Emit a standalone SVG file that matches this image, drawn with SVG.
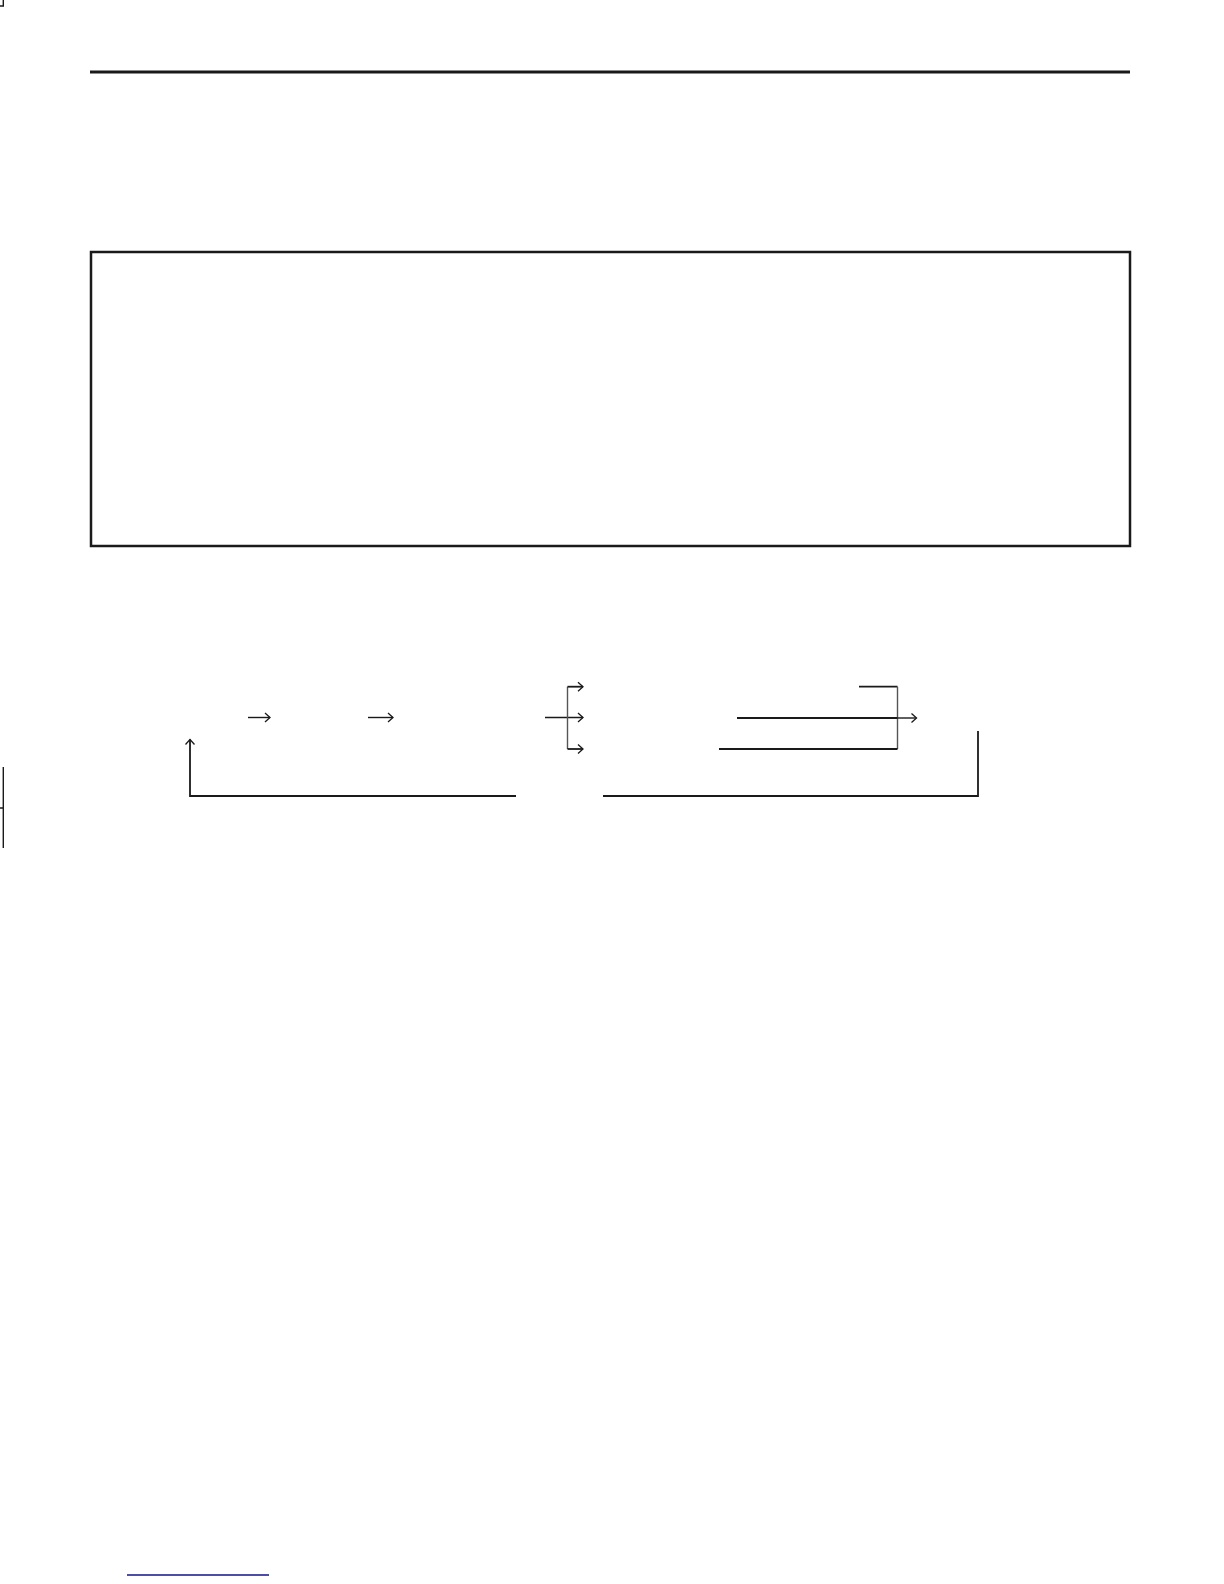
<svg xmlns="http://www.w3.org/2000/svg" width="1224" height="1584" viewBox="0 0 1224 1584">
<style>
.ln{fill:none;stroke:#1a1a1a;stroke-width:1.4}
.thk{fill:none;stroke:#1a1a1a;stroke-width:1.8}
.br{fill:none;stroke:#555;stroke-width:1.4}
</style>
<defs>
<marker id="ah" markerUnits="userSpaceOnUse" markerWidth="12" markerHeight="12" viewBox="-8 -6 10 12" refX="0" refY="0" orient="auto">
<path d="M-5,-4.5 L0,0 L-5,4.5" fill="none" stroke="#1a1a1a" stroke-width="1.3"/>
</marker>
</defs>
<rect width="1224" height="1584" fill="#fff"/>
<g id="page-marks">
<path d="M3.3,0 V6 H0" class="ln" stroke-width="1"/>
<path d="M3.3,767 V848 M0,808 H3.3" class="ln" stroke-width="1"/>
<line x1="90" y1="72" x2="1130" y2="72" stroke="#1a1a1a" stroke-width="3"/>
<line x1="127" y1="1575" x2="269" y2="1575" stroke="#12128a" stroke-width="1.6"/>
</g>
<g id="frame">
<rect x="91" y="252" width="1039" height="294" fill="none" stroke="#1a1a1a" stroke-width="2.5"/>
</g>
<g id="connectors">
<line x1="248" y1="717.5" x2="270" y2="717.5" class="ln" marker-end="url(#ah)"/>
<line x1="368" y1="717.5" x2="393" y2="717.5" class="ln" marker-end="url(#ah)"/>
<line x1="545" y1="717.5" x2="583" y2="717.5" class="ln" marker-end="url(#ah)"/>
<line x1="567.5" y1="686.7" x2="567.5" y2="749" class="br"/>
<line x1="567.5" y1="686.7" x2="583" y2="686.7" class="thk" marker-end="url(#ah)"/>
<line x1="567.5" y1="749" x2="583" y2="749" class="thk" marker-end="url(#ah)"/>
<line x1="859" y1="686.7" x2="897.5" y2="686.7" class="thk"/>
<line x1="897.5" y1="686.7" x2="897.5" y2="749" class="br"/>
<line x1="719" y1="749" x2="897.5" y2="749" class="thk"/>
<line x1="737" y1="718" x2="897.5" y2="718" class="thk"/>
<line x1="897.5" y1="718" x2="916.5" y2="718" class="ln" stroke="#555" marker-end="url(#ah)"/>
<path d="M978,731 V796 H603" class="thk"/>
<path d="M516,796 H190 V739.5" class="thk" marker-end="url(#ah)"/>
</g>
</svg>
